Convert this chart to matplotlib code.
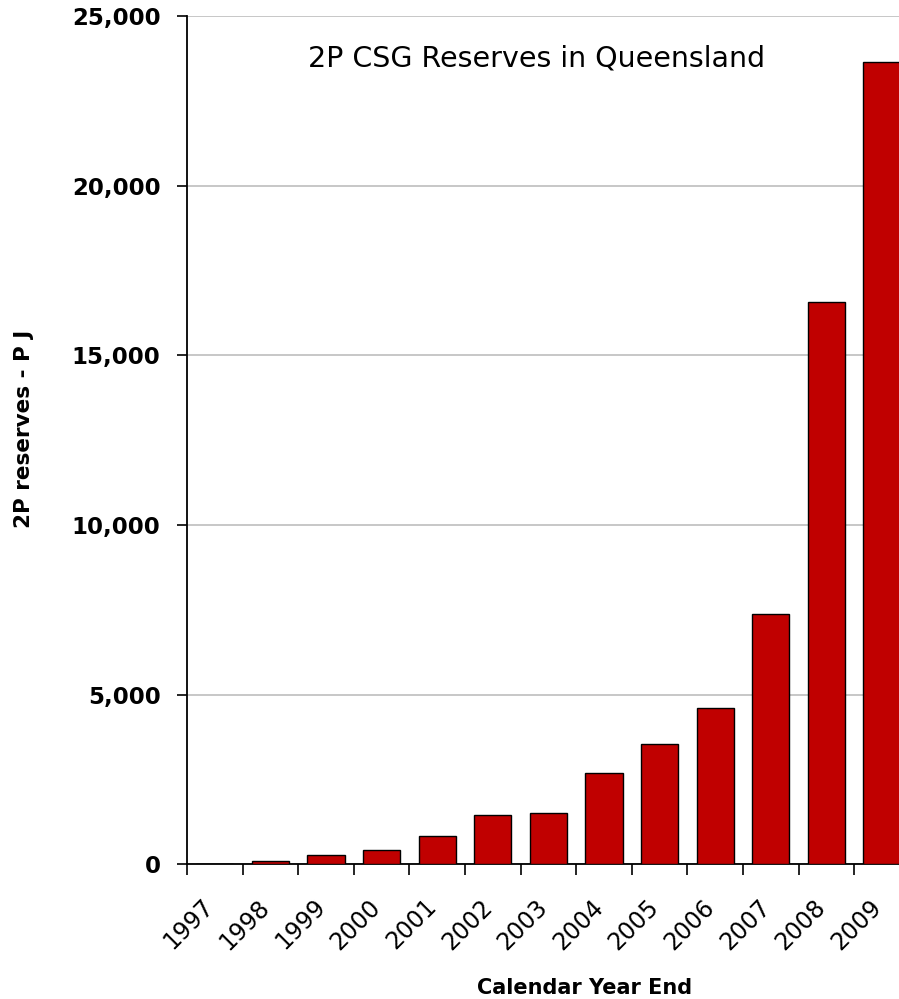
import numpy as np
import matplotlib.pyplot as plt
from matplotlib.transforms import ScaledTranslation

# 2P CSG reserves in Queensland (PJ)
years = ['1997', '1998', '1999', '2000', '2001', '2002', '2003',
         '2004', '2005', '2006', '2007', '2008', '2009']
reserves_pj = [0, 100, 260, 405, 830, 1450, 1500,
               2700, 3550, 4590, 7370, 16570, 23640]
y_ticks = [0, 5000, 10000, 15000, 20000, 25000]

plt.rcParams['font.family'] = ['DejaVu Sans']

fig = plt.figure(figsize=(8.99, 9.99), dpi=100)
# axes runs off the right edge like the source image
ax = fig.add_axes([0.208, 0.135, 0.804, 0.849])

x = np.arange(len(years))
ax.bar(x, reserves_pj, width=0.67, color='#C00000', edgecolor='black',
       linewidth=1.0, zorder=3)

ax.set_xlim(-0.5, len(years) - 0.5)
ax.set_ylim(0, 25000)
ax.set_yticks(y_ticks)
ax.set_yticklabels([f'{v:,}' for v in y_ticks], fontsize=16.5, fontweight='bold')
ax.yaxis.grid(True, color='#BDBDBD', linewidth=1.2, zorder=0)

# tick marks at category boundaries, labels at centres
ax.set_xticks(x)
ax.set_xticklabels(years, rotation=45, ha='right', rotation_mode='anchor',
                   fontsize=17)
ax.tick_params(axis='x', which='major', length=0, pad=22)
shift = ScaledTranslation(-13 / 100, 0, fig.dpi_scale_trans)
for lab in ax.get_xticklabels():
    lab.set_transform(lab.get_transform() + shift)
ax.set_xticks(np.arange(len(years) + 1) - 0.5, minor=True)
ax.tick_params(axis='x', which='minor', length=8, width=1.2, direction='out')
ax.tick_params(axis='y', length=7, width=1.2, direction='out', pad=12)

for side in ['top', 'right']:
    ax.spines[side].set_visible(False)
for side in ['left', 'bottom']:
    ax.spines[side].set_linewidth(1.3)

ax.set_ylabel('2P reserves - P J', fontsize=15.5, fontweight='bold')
ax.yaxis.set_label_coords(-0.212, 0.513)
ax.set_xlabel('Calendar Year End', fontsize=15, fontweight='bold')
ax.xaxis.set_label_coords(0.55, -0.134)

ax.text(0.484, 0.950, '2P CSG Reserves in Queensland', transform=ax.transAxes,
        ha='center', va='center', fontsize=20.5)

fig.savefig('out.png', dpi=100)
